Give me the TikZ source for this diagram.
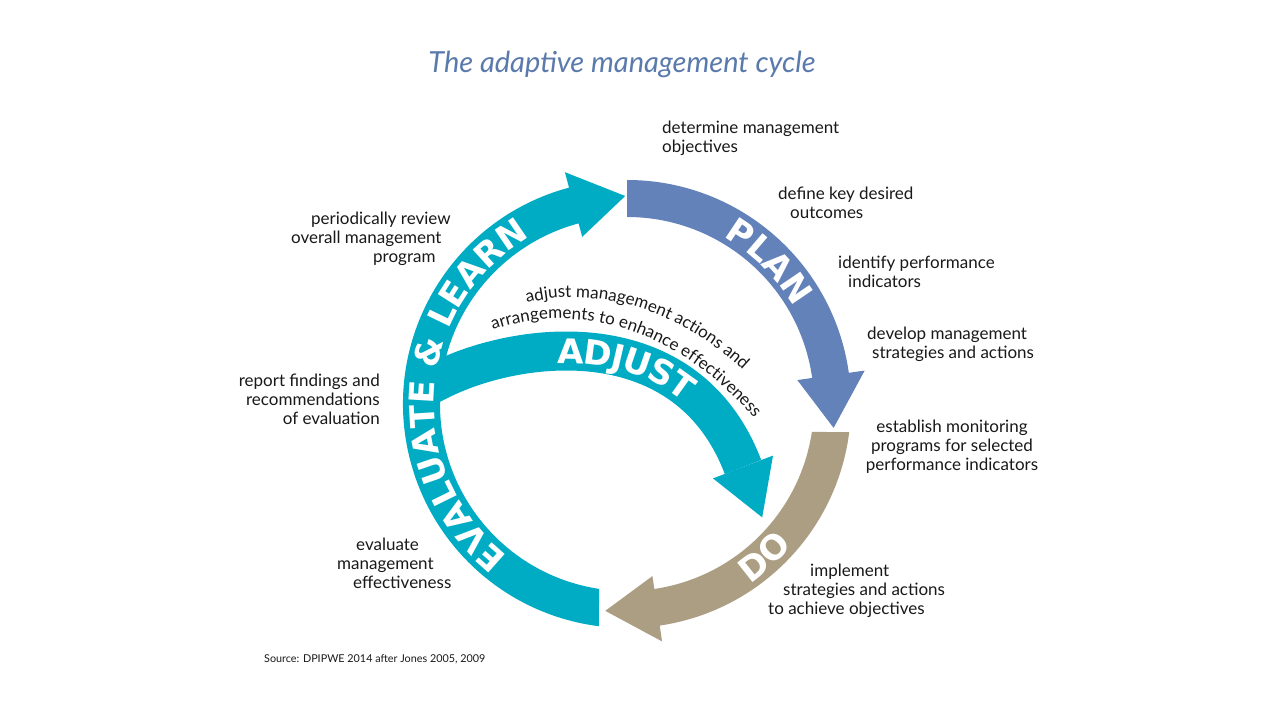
\documentclass[tikz,border=0pt]{standalone}
\usepackage{fontspec}
\setmainfont{Lato}
\newfontfamily\bandfont{DejaVu Sans}
\usetikzlibrary{decorations.text}
\definecolor{planblue}{RGB}{99,130,185}
\definecolor{evteal}{RGB}{0,172,196}
\definecolor{dotan}{RGB}{172,158,131}
\definecolor{titleblue}{RGB}{90,122,172}
\definecolor{ink}{RGB}{25,25,25}
\newcommand{\bandfmt}{\fontsize{34}{34}\selectfont\bandfont\bfseries\color{white}}
\newcommand{\capfmt}{\fontsize{17}{19}\selectfont\color{ink}}
\begin{document}
\begin{tikzpicture}[x=1pt,y=1pt,
  lbl/.style={inner sep=0pt, text=ink, font=\fontsize{17}{19}\selectfont},
  bandtext/.style={decorate, decoration={text along path, text align=center, text={|\bandfmt|#1}}}]
\fill[white] (0,0) rectangle (1280,720);
\useasboundingbox (0,0) rectangle (1280,720);

% ADJUST band
\coordinate (a0) at (418,329);
\coordinate (a1) at (440,340);
\coordinate (c1) at (520,380);
\coordinate (c2) at (687,400);
\coordinate (a2) at (743,253);
\draw[line width=39, evteal] (a0) -- (a1) .. controls (c1) and (c2) .. (a2);
\fill[evteal] (713,241.6) -- (762.2,202.6) -- (773,264.4) -- cycle;

\begin{scope}[shift={(627,316)}]
  % PLAN
  \fill[planblue] (90:187) arc[start angle=90,end angle=8,radius=187]
    -- (8:172) -- (-6.6:208) -- (8:240) -- (8:224)
    arc[start angle=8,end angle=90,radius=224] -- cycle;
  % DO
  \fill[dotan] (-8.6:187) arc[start angle=-8.6,end angle=-81.6,radius=187]
    -- (-81.6:174) -- (-96:208) -- (-81.6:240) -- (-81.6:224)
    arc[start angle=-81.6,end angle=-7.2,radius=224] -- cycle;
  % EVALUATE & LEARN
  \fill[evteal] (261.4:187) arc[start angle=261.4,end angle=105,radius=187]
    -- (105:173) -- (90.5:208) -- (105:240) -- (105:224)
    arc[start angle=105,end angle=262.8,radius=224] -- cycle;

  \path[bandtext=PLAN] (75:193) arc[start angle=75,end angle=15,radius=193];
  \path[bandtext=DO] (-78:218) arc[start angle=-78,end angle=-18,radius=218];
  \path[bandtext={EVALUATE {\&} LEARN}] (256:193) arc[start angle=256,end angle=96,radius=193];
\end{scope}

\path[decorate, decoration={text along path, text align={center, left indent=30pt}, raise=-12.4pt, text={|\bandfmt|ADJUST}}]
  (a1) .. controls (c1) and (c2) .. (a2);

% curved caption above ADJUST
\coordinate (t1s) at (527,417);
\coordinate (t1e) at (787,302);
\path[decorate, decoration={text along path, text align=left, text={|\capfmt|adjust management actions and}}]
  (t1s) .. controls (585,432) and (692,424) .. (t1e);
\coordinate (t2s) at (493,390);
\coordinate (t2e) at (785,262);
\path[decorate, decoration={text along path, text align=left, text={|\capfmt|arrangements to enhance effectiveness}}]
  (t2s) .. controls (560,414) and (682,411) .. (t2e);

% title and source
\node (title) [anchor=base, inner sep=0pt, text=titleblue, font=\fontsize{29}{31}\selectfont\itshape] at (622,647) {The adaptive management cycle};
\node (source) [anchor=base west, inner sep=0pt, text=ink, font=\fontsize{10.8}{13}\selectfont] at (264,57) {Source: DPIPWE 2014 after Jones 2005, 2009};

% step texts
\node (p1) [lbl, anchor=north west, align=left] at (662,599) {determine management\\objectives};
\node (p2) [lbl, anchor=north west, align=left] at (778,533) {define key desired\\\hspace*{12pt}outcomes};
\node (p3) [lbl, anchor=north west, align=left] at (838,464) {identify performance\\\hspace*{10pt}indicators};
\node (p4) [lbl, anchor=north west, align=left] at (867,393) {develop management\\\hspace*{5pt}strategies and actions};
\node (d1) [lbl, anchor=north, align=center] at (952,300) {establish monitoring\\programs for selected\\performance indicators};
\node (d2) [lbl, anchor=north west, align=left] at (768,156) {\hspace*{42pt}implement\\\hspace*{15pt}strategies and actions\\to achieve objectives};
\node (e1) [lbl, anchor=north west, align=left] at (337,182) {\hspace*{19pt}evaluate\\management\\\hspace*{16pt}effectiveness};
\node (e2) [lbl, anchor=north east, align=right] at (380,346) {report findings and\\recommendations\\of evaluation};
\node (e3) [lbl, anchor=north west, align=left] at (291,508) {\hspace*{20pt}periodically review\\overall management\\\hspace*{82pt}program};
\end{tikzpicture}
\end{document}
